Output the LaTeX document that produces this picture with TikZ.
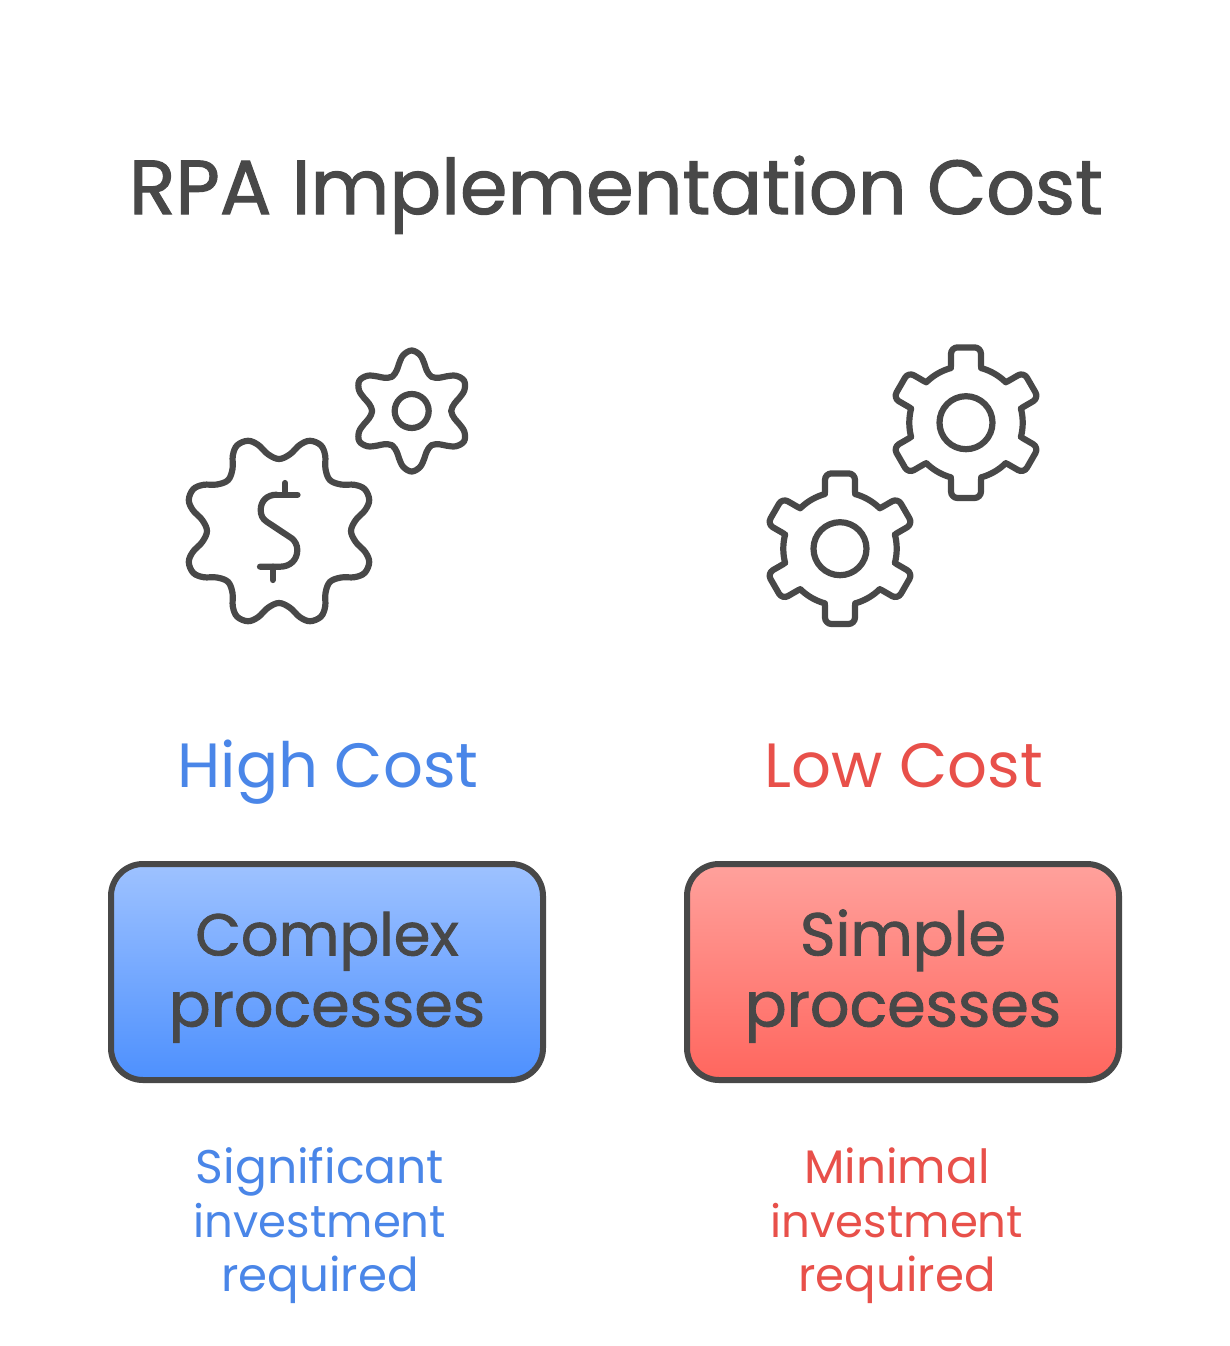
\documentclass[tikz,border=0pt]{standalone}
\usepackage{fontspec}
\setmainfont{Poppins}
\newfontfamily\heavier[FakeBold=1.4]{Poppins}
\definecolor{ink}{HTML}{484848}
\definecolor{blueT}{HTML}{4A86E8}
\definecolor{redT}{HTML}{E8504A}
\definecolor{blueA}{HTML}{9EC2FF}
\definecolor{blueB}{HTML}{4D90FE}
\definecolor{redA}{HTML}{FFA19C}
\definecolor{redB}{HTML}{FF665E}
\newcommand{\fs}[1]{\fontsize{#1}{54}\selectfont}
\tikzset{
  icon/.style={draw=ink,line width=6.2pt,line cap=round,line join=round},
  costbox/.style={draw=ink,line width=6pt,rounded corners=32pt,minimum width=432pt,minimum height=216pt,inner sep=0pt,text=ink,align=center,font=\heavier\fontsize{62}{71}\selectfont},
  title/.style={text=ink,font=\heavier\fontsize{76.5}{80}\selectfont,inner sep=0pt,anchor=base},
  head/.style={font=\fontsize{62.5}{70}\selectfont,inner sep=0pt,anchor=base},
  sub/.style={font=\fontsize{45}{54}\selectfont,align=center,inner sep=0pt},
}
\newcommand{\mywavy}[5]{% cx cy n offset list
  \def\mylist{}%
  \pgfmathsetmacro\stepang{360/#3}%
  \foreach \k in {1,...,#3}{%
    \foreach \p/\r in {#5}{%
      \pgfmathsetmacro\ang{#4+\k*\stepang+\p}%
      \xdef\mylist{\mylist (\ang:\r)}%
    }%
  }%
  \edef\mydo{\noexpand\draw[icon,shift={(#1,#2)}] plot[smooth cycle,tension=.6] coordinates {\mylist};}%
  \mydo
}
\newcommand{\mycog}[2]{%
  \begin{scope}[shift={(#1,#2)}]
    \foreach \a in {30,90,150,210,270,330}{%
      \draw[icon,rotate=\a,rounded corners=6.5pt] (56.3,-15)--(75.3,-15)--(75.3,15)--(56.3,15);
      \draw[icon] plot[domain=\a+15.4:\a+44.6,samples=12] (\x:56.7);
    }
    \draw[icon] (0,0) circle[radius=26.5pt];
  \end{scope}
}
\begin{document}
\begin{tikzpicture}[x=1pt,y=-1pt]
\useasboundingbox (0,0) rectangle (1230,1346);
\fill[white] (0,0) rectangle (1230,1346);
\node[title] (t) at (616,214) {RPA Implementation Cost};
% small flower gear
\mywavy{411.7}{411}{6}{30}{-30/39.5,-20/43.5,-15/49,-8.5/56.6,0/60.5,8.5/56.6,15/49,20/43.5}
\draw[icon] (411.7,411) circle[radius=17pt];
% big gear
\mywavy{279}{531}{8}{22.5}{-22.5/72,-14.3/77.6,-8.9/88.6,-3.5/95.4,3.5/95.4,8.9/88.6,14.3/77.6}
\draw[icon] (276.7,494.7) -- (297.5,494.7);
\draw[icon] (276.7,494.7) .. controls (267,494.7) and (260.7,501) .. (260.7,510) .. controls (260.7,515) and (262.5,519) .. (266.7,521.7) -- (291.7,538.3) .. controls (295,541) and (297.3,545) .. (297.3,550) .. controls (297.3,560) and (290,566.7) .. (280,566.7) -- (260,566.7);
\draw[icon] (285,483) -- (285,494.7);
\draw[icon] (272.7,566.7) -- (272.7,580);
% cogs
\mycog{966}{422.7}
\mycog{840}{548.7}
% labels
\node[head,text=blueT] (hc) at (328,787) {High Cost};
\node[head,text=redT] (lc) at (904,787) {Low Cost};
\node[costbox,top color=blueA,bottom color=blueB] (cb) at (327,972) {\rule{0pt}{54pt}{\fontsize{59}{71}\selectfont Complex}\\processes};
\node[costbox,top color=redA,bottom color=redB] (sb) at (903,972) {\rule{0pt}{54pt}{\fontsize{60.5}{71}\selectfont Simple}\\processes};
\node[sub,text=blueT] (s1) at (320,1226) {{\fs{47.2}Significant}\\investment\\{\fs{46.7}required}};
\node[sub,text=redT] (s2) at (897,1226) {{\fs{47}Minimal}\\investment\\{\fs{46.7}required}};
\end{tikzpicture}
\end{document}
